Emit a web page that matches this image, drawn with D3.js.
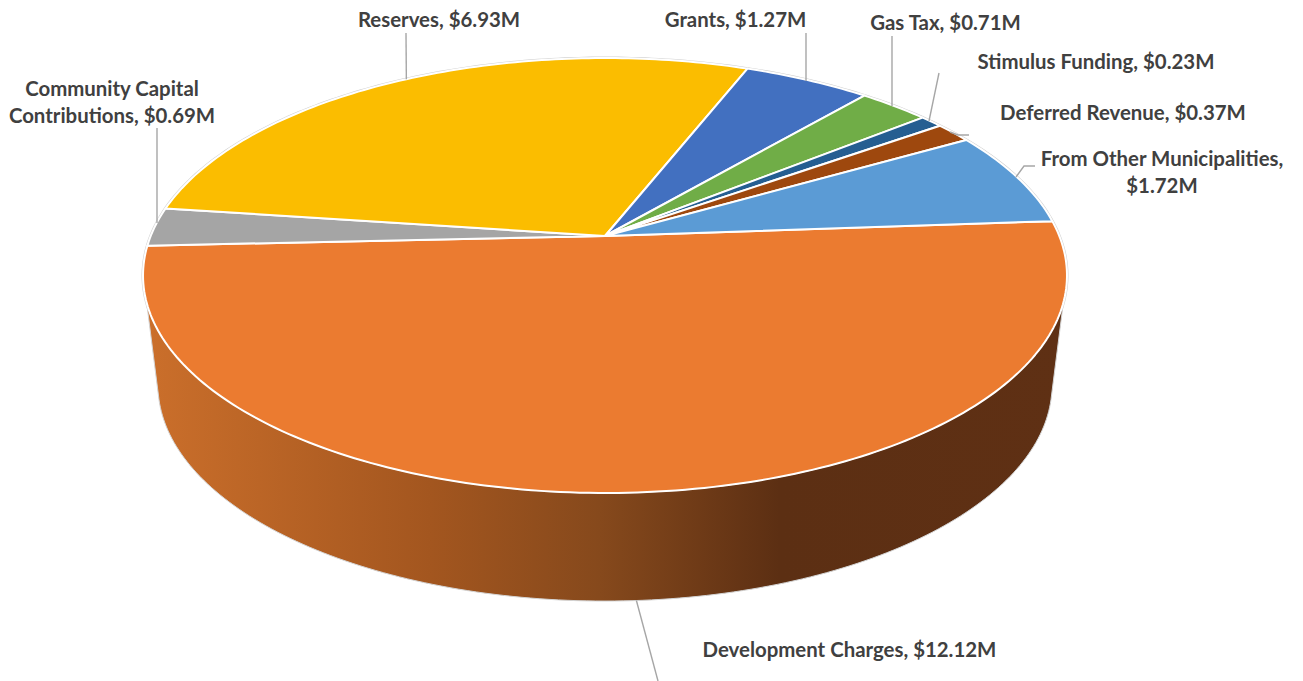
<!DOCTYPE html>
<html>
<head>
<meta charset="utf-8">
<script src="https://d3js.org/d3.v7.min.js"></script>
<style>
	html, body { margin: 0; padding: 0; background: #fff; }
	svg { display: block; }
	.label { font-family: Lato, "Open Sans", sans-serif; font-weight: 700; font-size: 20.4px; fill: #404040; text-anchor: middle; }
	.leader { fill: none; stroke: #a6a6a6; stroke-width: 1.4; }
</style>
</head>
<body>
<script>
// Values in $M, clockwise starting with the big front slice
const categories = ['Development Charges', 'Community Capital Contributions', 'Reserves', 'Grants', 'Gas Tax', 'Stimulus Funding', 'Deferred Revenue', 'From Other Municipalities'];
const values = [12.12, 0.69, 6.93, 1.27, 0.71, 0.23, 0.37, 1.72];
const colors = ['#eb7b30', '#a5a5a5', '#fbbd00', '#4270c0', '#70ad47', '#255e91', '#9e480e', '#5b9bd5'];

const width = 1303;
const height = 681;

// Label placement: centre x, first baseline, where the text wraps, and the
// bend/end of the leader line. The other end sits on the slice rim unless
// an explicit end is given
const labelLayout = {
	'Development Charges': { x: 849.5, y: 657, leader: [[658, 681]], rim: 'bottom' },
	'Community Capital Contributions': { x: 112, y: 96, wrap: 'Community Capital', leader: [[157, 128]], end: [157, 223] },
	'Reserves': { x: 439, y: 27, leader: [[406, 33]] },
	'Grants': { x: 735.5, y: 27, leader: [[806, 33]], end: [806, 81] },
	'Gas Tax': { x: 945.5, y: 30, leader: [[892, 36]], end: [892, 106] },
	'Stimulus Funding': { x: 1096, y: 69, leader: [[939, 73]], end: [929, 121] },
	'Deferred Revenue': { x: 1123, y: 120, leader: [[969, 135], [958, 135]], end: [950, 132] },
	'From Other Municipalities': { x: 1162, y: 166, wrap: 'From Other Municipalities,', leader: [[1035, 166], [1024, 166]], end: [1016, 177] }
};

const toRad = Math.PI / 180;
const startAngle = 85.9 * toRad;

// Perspective projection of a flat disc onto the screen
const tilt = 0.1816;
const makeDisc = (cx, cy, a, b) => angle => {
	const u = Math.sin(angle);
	const v = Math.cos(angle);
	const w = 1 + tilt * v;
	return [cx + a * u / w, cy - b * v / w];
};
const topDisc = makeDisc(605, 236, 454.3, 210.3);
const bottomDisc = makeDisc(605, 345.8, 439.6, 208.9);

const arcPoints = (disc, a0, a1) => {
	const steps = Math.max(2, Math.ceil(Math.abs(a1 - a0) / toRad));
	return d3.range(steps + 1).map(i => disc(a0 + (a1 - a0) * i / steps));
};
const line = d3.line();

const pie = d3.pie().sort(null).startAngle(startAngle).endAngle(startAngle + 2 * Math.PI);
const slices = pie(values);

const svg = d3.select('body').append('svg')
	.attr('width', width)
	.attr('height', height)
	.attr('viewBox', [0, 0, width, height]);

// Side wall shading
const wallColor = d3.scaleLinear()
	.domain([145, 430, 600, 780, 1066])
	.range(['#cb6f2b', '#a3561f', '#86491c', '#5c2f13', '#5f3014']);

const gradient = svg.append('defs').append('linearGradient')
	.attr('id', 'wallGradient')
	.attr('gradientUnits', 'userSpaceOnUse')
	.attr('x1', 145).attr('x2', 1066)
	.attr('y1', 0).attr('y2', 0);

gradient.selectAll('stop')
	.data(wallColor.domain())
.join('stop')
	.attr('offset', d => (d - 145) / (1066 - 145))
	.attr('stop-color', d => wallColor(d));

// Thin grey outline showing outside the disc
svg.append('path')
	.attr('d', line(arcPoints(topDisc, 0, 2 * Math.PI)) + 'z')
	.attr('fill', '#fff')
	.attr('stroke', '#cfcfcf')
	.attr('stroke-width', 3);

// Wall: top rim, then back along the bottom rim
const wallTop = arcPoints(topDisc, 107.5 * toRad, 252.5 * toRad);
const wallBottom = arcPoints(bottomDisc, 255.7 * toRad, 104.3 * toRad);
svg.append('path')
	.attr('d', line(wallTop.concat(wallBottom)) + 'z')
	.attr('fill', 'url(#wallGradient)')
	.attr('stroke', '#d4d4d4')
	.attr('stroke-width', 1);

// Top face
svg.selectAll('path.slice')
	.data(slices)
.join('path')
	.attr('class', 'slice')
	.attr('d', d => line([[605, 236], ...arcPoints(topDisc, d.startAngle, d.endAngle)]) + 'z')
	.attr('fill', (d, i) => colors[i])
	.attr('stroke', '#fff')
	.attr('stroke-width', 2)
	.attr('stroke-linejoin', 'round');

// Leader lines
svg.selectAll('path.leader')
	.data(slices)
.join('path')
	.attr('class', 'leader')
	.attr('d', (d, i) => {
		const layout = labelLayout[categories[i]];
		const mid = (d.startAngle + d.endAngle) / 2;
		const end = layout.end || (layout.rim === 'bottom' ? bottomDisc(mid) : topDisc(mid));
		return line([...layout.leader, end]);
	});

// Labels
const labels = svg.selectAll('text.label')
	.data(slices)
.join('text')
	.attr('class', 'label')
	.attr('y', (d, i) => labelLayout[categories[i]].y);

labels.selectAll('tspan')
	.data((d, i) => {
		const layout = labelLayout[categories[i]];
		const text = categories[i] + ', $' + d.value.toFixed(2) + 'M';
		const lines = layout.wrap ? [layout.wrap, text.slice(layout.wrap.length).trim()] : [text];
		return lines.map((t, n) => ({ text: t, n: n, x: layout.x }));
	})
.join('tspan')
	.attr('x', d => d.x)
	.attr('dy', d => d.n ? 27 : 0)
	.text(d => d.text);
</script>
</body>
</html>
